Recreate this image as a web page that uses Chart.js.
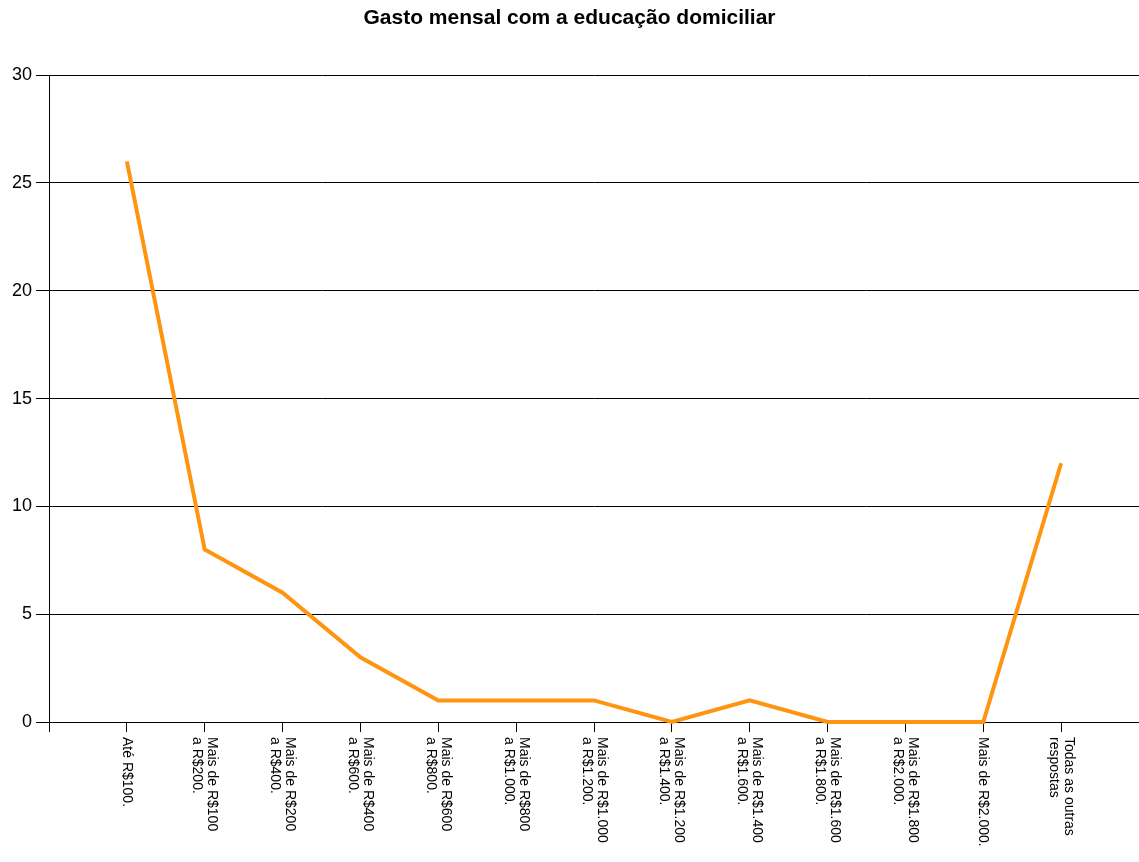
<!DOCTYPE html>
<html>
<head>
  <title>Gasto mensal com a educação domiciliar</title>
  <script src="https://cdn.jsdelivr.net/npm/chart.js"></script>
  <style>
    html, body { margin: 0; padding: 0; background: #fff; }
    #wrap { width: 1139px; height: 862px; position: relative; }
  </style>
</head>
<body>
  <div id="wrap"><canvas id="gastoChart"></canvas></div>

  <script>
    // categories (empty ones at both ends pad the axis like the original)
    const categories = [
      "",
      ["Até R$100."],
      ["Mais de R$100", "a R$200."],
      ["Mais de R$200", "a R$400."],
      ["Mais de R$400", "a R$600."],
      ["Mais de R$600", "a R$800."],
      ["Mais de R$800", "a R$1.000."],
      ["Mais de R$1.000", "a R$1.200."],
      ["Mais de R$1.200", "a R$1.400."],
      ["Mais de R$1.400", "a R$1.600."],
      ["Mais de R$1.600", "a R$1.800."],
      ["Mais de R$1.800", "a R$2.000."],
      ["Mais de R$2.000."],
      ["Todas as outras", "respostas"],
      ""
    ];
    const gastoValues = [null, 26, 8, 6, 3, 1, 1, 1, 0, 1, 0, 0, 0, 12, null];
    const yTicks = [0, 5, 10, 15, 20, 25, 30];

    const font = "'Liberation Sans', Arial, sans-serif";

    // x labels are rotated clockwise, so draw them ourselves
    const rotatedLabels = {
      id: "rotatedLabels",
      afterDraw(chart) {
        const ctx = chart.ctx;
        const xs = chart.scales.x;
        ctx.save();
        ctx.fillStyle = "#000";
        ctx.font = "14px " + font;
        ctx.textAlign = "left";
        ctx.textBaseline = "middle";
        const lh = 15;
        categories.forEach((lab, i) => {
          if (!lab) return;
          const lines = Array.isArray(lab) ? lab : [lab];
          const x = xs.getPixelForTick(i);
          ctx.save();
          ctx.translate(x, xs.top + 15);
          ctx.rotate(Math.PI / 2);
          lines.forEach((ln, j) => {
            ctx.fillText(ln, 0, (j - (lines.length - 1) / 2) * lh);
          });
          ctx.restore();
        });
        ctx.restore();
      }
    };

    const ctx = document.getElementById("gastoChart").getContext("2d");
    new Chart(ctx, {
      type: "line",
      data: {
        labels: categories.map((c, i) => i),
        datasets: [{
          data: gastoValues,
          borderColor: "#ff9410",
          borderWidth: 4,
          pointRadius: 0,
          tension: 0,
          clip: false
        }]
      },
      options: {
        responsive: true,
        maintainAspectRatio: false,
        animation: false,
        plugins: {
          legend: { display: false },
          tooltip: { enabled: false },
          title: {
            display: true,
            text: "Gasto mensal com a educação domiciliar",
            color: "#000",
            font: { family: font, size: 21, weight: "bold" },
            padding: { top: 6, bottom: 44 }
          }
        },
        scales: {
          x: {
            type: "category",
            offset: false,
            grid: {
              drawOnChartArea: false,
              drawTicks: true,
              tickLength: 10,
              color: "#000"
            },
            border: { color: "#000", width: 1 },
            ticks: { display: false, autoSkip: false },
            afterFit(s) { s.height = 140; }
          },
          y: {
            min: 0,
            max: 30,
            afterBuildTicks(s) { s.ticks = yTicks.map(v => ({ value: v })); },
            grid: {
              color: "#000",
              lineWidth: 1,
              drawTicks: true,
              tickLength: 13
            },
            border: { color: "#000", width: 1 },
            ticks: {
              color: "#000",
              padding: 4,
              font: { family: font, size: 18 }
            },
            afterFit(s) { s.width = 49; }
          }
        }
      },
      plugins: [rotatedLabels]
    });
  </script>
</body>
</html>
